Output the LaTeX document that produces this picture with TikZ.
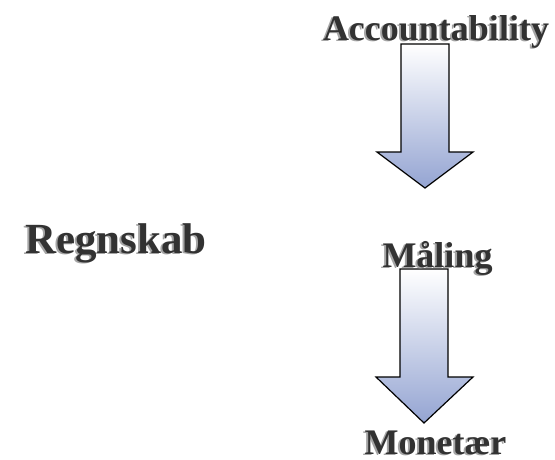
\documentclass[tikz,border=0pt]{standalone}
\usepackage{fontspec}
\setmainfont{Liberation Serif}
\definecolor{txtdark}{RGB}{50,50,50}
\definecolor{txtshadow}{RGB}{165,165,165}
\definecolor{arrowblue}{RGB}{148,164,210}
% text with a soft shadow to the lower left, in one node
\newcommand{\shadowed}[1]{\makebox[0pt][l]{\hspace{-2pt}\raisebox{-1.5pt}{\textcolor{txtshadow}{#1}}}#1}
\tikzset{
  lbl/.style={anchor=base, inner sep=0pt, text=txtdark, font=\fontsize{36}{38}\selectfont\bfseries},
  biglbl/.style={anchor=base, inner sep=0pt, text=txtdark, font=\fontsize{43}{45}\selectfont\bfseries},
  downarrow/.style={draw=black, line width=1.2pt, line join=miter, top color=white, bottom color=arrowblue}
}
\begin{document}
\begin{tikzpicture}[x=1pt,y=-1pt]
\useasboundingbox (0,0) rectangle (555,459);
% arrow 1
\coordinate (a1tip) at (425,188);
\path[downarrow] (401,44) -- (449,44) -- (449,152) -- (473,152) -- (a1tip) -- (377,152) -- (401,152) -- cycle;
% arrow 2
\coordinate (a2tip) at (424,423);
\path[downarrow] (400,269) -- (448,269) -- (448,377) -- (473,377) -- (a2tip) -- (376,377) -- (400,377) -- cycle;
% texts
\node[lbl] (acc) at (436,40) {\shadowed{Accountability}};
\node[biglbl] (reg) at (116,253) {\shadowed{Regnskab}};
\node[lbl] (mal) at (437.5,267) {\shadowed{Måling}};
\node[lbl, text depth=2pt] (mon) at (435.5,454) {\shadowed{Monetær}};
\end{tikzpicture}
\end{document}
